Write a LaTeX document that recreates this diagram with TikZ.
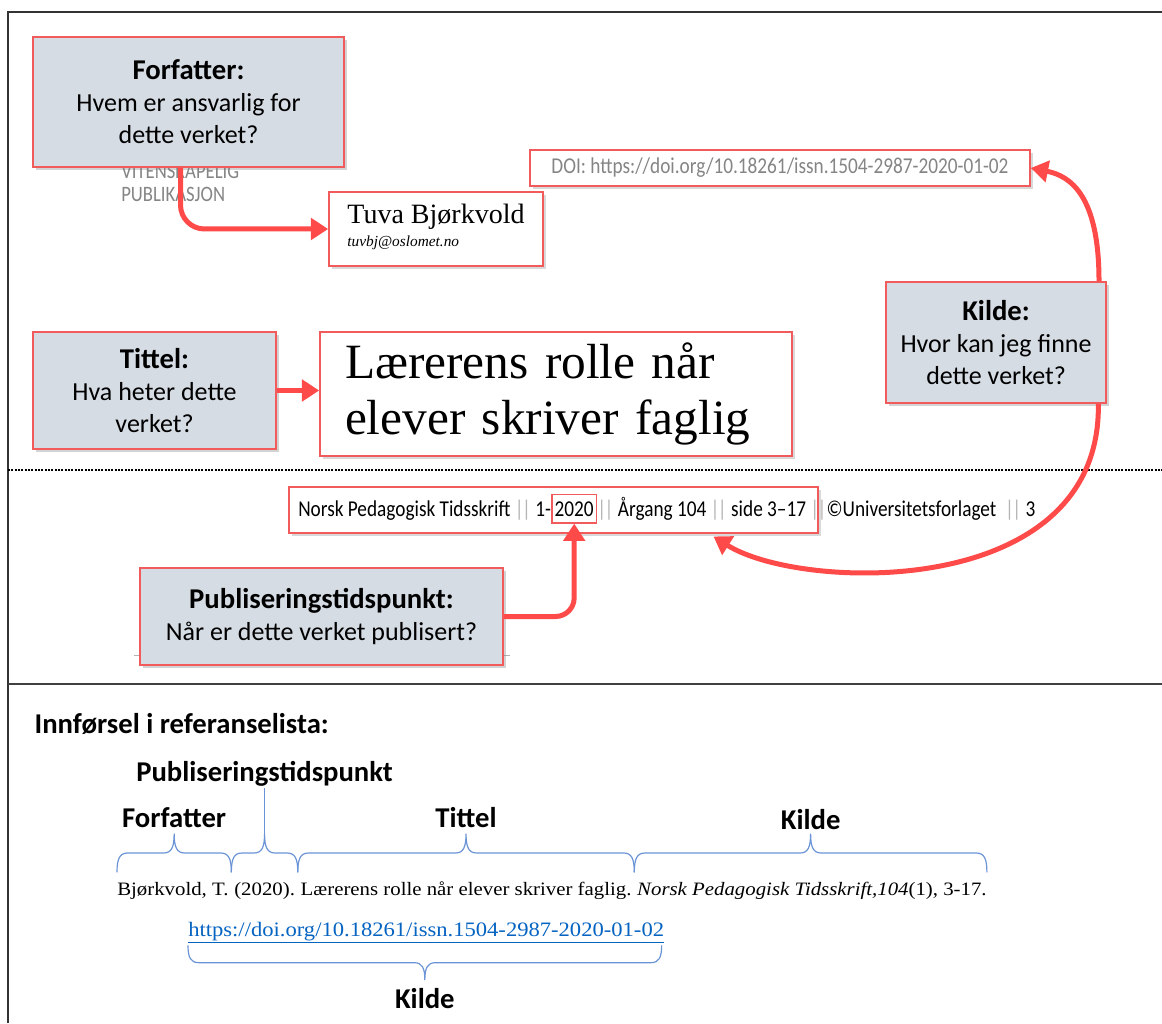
\documentclass[tikz,border=0pt]{standalone}
\usepackage{fontspec}
\setmainfont{Liberation Serif}
\newfontfamily\calibri{Carlito}
\newfontfamily\narrowsf{Carlito}[FakeStretch=0.85]
\newfontfamily\citefont{Liberation Serif}[FakeStretch=1.1]
\usetikzlibrary{shapes,arrows.meta}
\usetikzlibrary{positioning,calc,shadows}

\definecolor{boxred}{HTML}{F25B5B}
\definecolor{arrowred}{HTML}{FF4A4A}
\definecolor{boxfill}{HTML}{D6DCE4}
\definecolor{braceblue}{HTML}{6A94D6}
\definecolor{linkblue}{HTML}{0563C1}
\definecolor{pagegrey}{HTML}{858585}
\definecolor{sepgrey}{HTML}{B4B4B4}

\tikzset{
  infobox/.style={draw=boxred, line width=1.5pt, fill=boxfill, align=center,
    font=\calibri\fontsize{19.5}{24}\selectfont,
    drop shadow={shadow xshift=2.5pt, shadow yshift=-2.5pt, opacity=.35}},
  pagebox/.style={draw=boxred, line width=1.2pt, fill=white, inner sep=0pt,
    drop shadow={shadow xshift=2pt, shadow yshift=-2pt, opacity=.3}},
  redarrow/.style={draw=arrowred, line width=3.75pt, -{Triangle[length=13pt,width=16pt]}},
  bracepath/.style={draw=braceblue, line width=.9pt},
  reflabel/.style={font=\calibri\bfseries\fontsize{21.5}{26}\selectfont, inner sep=1pt},
  citetext/.style={font=\citefont\fontsize{14.2}{17}\selectfont, inner sep=0pt, anchor=base west},
  pagetext/.style={font=\narrowsf\fontsize{17}{20}\selectfont, inner sep=0pt, anchor=base west},
  headtext/.style={font=\narrowsf\fontsize{16.5}{18}\selectfont, text=pagegrey, inner sep=0pt, anchor=west},
}
\newcommand{\head}[1]{{\bfseries\fontsize{21.5}{24}\selectfont #1}}
\newcommand{\sepbar}{{\color{sepgrey}|\kern-1.2pt|}}
% curly brace over (or under) a piece of text, its tip gets the name #1
\newcommand{\citebrace}[4]{%
  \draw[bracepath] let \p1=#2, \p2=#3, \p3=($(\p1)!.5!(\p2)$) in
    (\p1) .. controls (\x1,{\y1+0.7*(#4)}) and ({\x1+2pt},{\y1+(#4)}) .. ({\x1+8pt},{\y1+(#4)})
    -- ({\x3-8pt},{\y1+(#4)}) .. controls ({\x3-2pt},{\y1+(#4)}) and (\x3,{\y1+1.3*(#4)}) .. (\x3,{\y1+2*(#4)}) coordinate (#1)
    .. controls (\x3,{\y1+1.3*(#4)}) and ({\x3+2pt},{\y1+(#4)}) .. ({\x3+8pt},{\y1+(#4)})
    -- ({\x2-8pt},{\y1+(#4)}) .. controls ({\x2-2pt},{\y1+(#4)}) and (\x2,{\y1+0.7*(#4)}) .. (\x2,\y1);}

\begin{document}
\begin{tikzpicture}[x=0.75pt,y=-0.75pt]
    \useasboundingbox (0,0) rectangle (1162,1023);
    % page frame and rules
    \draw[line width=1pt, black!80] (8,1023) -- (8,12) -- (1162,12);
    \draw[line width=1.5pt, densely dotted] (8,470) -- (1162,470);
    \draw[line width=1.5pt, black!75] (8,684) -- (1162,684);
    \draw[black!30] (134,655) -- (510,655);

    % article header, partly hidden
    \node[headtext] (vit1) at (121,171) {VITENSKAPELIG};
    \node[headtext] (vit2) at (121,194) {PUBLIKASJON};

    % question boxes
    \node[infobox, minimum width=311*.75pt, minimum height=130*.75pt] (forf) at (188.5,102)
        {\head{Forfatter:}\\Hvem er ansvarlig for\\dette verket?};
    \node[infobox, minimum width=220*.75pt, minimum height=121*.75pt] (kilde) at (996,342.5)
        {\head{Kilde:}\\Hvor kan jeg finne\\dette verket?};
    \node[infobox, minimum width=243*.75pt, minimum height=117*.75pt] (tittel) at (154.5,390.5)
        {\head{Tittel:}\\Hva heter dette\\verket?};
    \node[infobox, minimum width=363*.75pt, minimum height=97*.75pt] (pub) at (321.5,616.5)
        {\head{Publiseringstidspunkt:}\\Når er dette verket publisert?};

    % cut-outs from the article
    \node[pagebox, minimum width=214*.75pt, minimum height=74*.75pt,
        font=\fontsize{21}{17}\selectfont] (tuva) at (436,229)
        {\begin{tabular}{@{}l@{}}Tuva Bjørkvold\\{\itshape\fontsize{11.5}{13}\selectfont tuvbj@oslomet.no}\end{tabular}};
    \node[pagebox, minimum width=500*.75pt, minimum height=36*.75pt, text=pagegrey,
        font=\narrowsf\fontsize{17}{20}\selectfont] (doi) at (780,168)
        {DOI: https://doi.org/10.18261/issn.1504-2987-2020-01-02};
    \node[pagebox, minimum width=472*.75pt, minimum height=124*.75pt, text width=316.5pt, align=left,
        font=\fontsize{37}{42}\selectfont] (title) at (556,394)
        {Lærerens rolle når\\elever skriver faglig};
    \node[pagebox, minimum width=529*.75pt, minimum height=46*.75pt] (jbox) at (553.5,510) {};
    \node[pagetext] (jl1) at (298,516) {Norsk Pedagogisk Tidsskrift \sepbar{} 1-};
    \node[pagetext, draw=boxred, line width=1.2pt, inner xsep=2pt, inner ysep=5pt] (jyear) at (jl1.base east) {2020};
    \node[pagetext] (jl2) at (jyear.base east) {\sepbar{} Årgang 104 \sepbar{} side 3–17 \sepbar©Universitetsforlaget\ \ \sepbar{} 3};

    % arrows
    \draw[redarrow, rounded corners=18pt] ([xshift=-6pt]forf.south) |- (tuva.west);
    \draw[redarrow] (tittel.east) -- (tittel.east -| title.west);
    \draw[redarrow] ([xshift=-6pt]kilde.north east) .. controls +(0,-85) and +(40,8) .. (doi.east);
    \draw[redarrow] ([xshift=-6.5pt]kilde.south east) .. controls +(3,197) and +(87,55) .. ([xshift=120pt,yshift=-2pt]jbox.south);
    \draw[redarrow, rounded corners=14pt] (pub.east) -| (jyear.south);

    % reference list entry
    \node[reflabel, anchor=west] (innf) at (33,724) {Innførsel i referanselista:};
    \node[citetext] (cauth) at (117,895) {Bjørkvold, T.};
    \node[citetext, xshift=3.9pt] (cyear) at (cauth.base east) {(2020).};
    \node[citetext, xshift=3.9pt] (ctitle) at (cyear.base east) {Lærerens rolle når elever skriver faglig.};
    \node[citetext, xshift=3.9pt] (csrc) at (ctitle.base east) {\textit{Norsk Pedagogisk Tidsskrift,104}(1), 3-17.};
    \node[citetext, text=linkblue, font=\citefont\fontsize{15.4}{17}\selectfont] (url) at (188,936)
        {\underline{https://doi.org/10.18261/issn.1504-2987-2020-01-02}};

    \citebrace{ftip}{([yshift=17pt]cauth.base west)}{([xshift=-2pt,yshift=17pt]cyear.base west)}{14.5pt}
    \citebrace{ptip}{([xshift=-2pt,yshift=17pt]cyear.base west)}{([xshift=-2pt,yshift=17pt]ctitle.base west)}{14.5pt}
    \citebrace{ttip}{([xshift=-2pt,yshift=17pt]ctitle.base west)}{([xshift=-2pt,yshift=17pt]csrc.base west)}{14.5pt}
    \citebrace{ktip}{([xshift=-2pt,yshift=17pt]csrc.base west)}{([yshift=17pt]csrc.base east)}{14.5pt}
    \citebrace{utip}{([yshift=-7pt]url.base west)}{([xshift=-2pt,yshift=-7pt]url.base east)}{-13pt}

    \node[reflabel, above=3pt of ftip] (lforf) {Forfatter};
    \node[reflabel, above=34.5pt of ptip] (lpub) {Publiseringstidspunkt};
    \draw[bracepath] (ptip) -- (lpub.south);
    \node[reflabel, above=3pt of ttip] (ltit) {Tittel};
    \node[reflabel, above=2pt of ktip] (lkilde) {Kilde};
    \node[reflabel, below=5pt of utip] (lurl) {Kilde};
\end{tikzpicture}
\end{document}
